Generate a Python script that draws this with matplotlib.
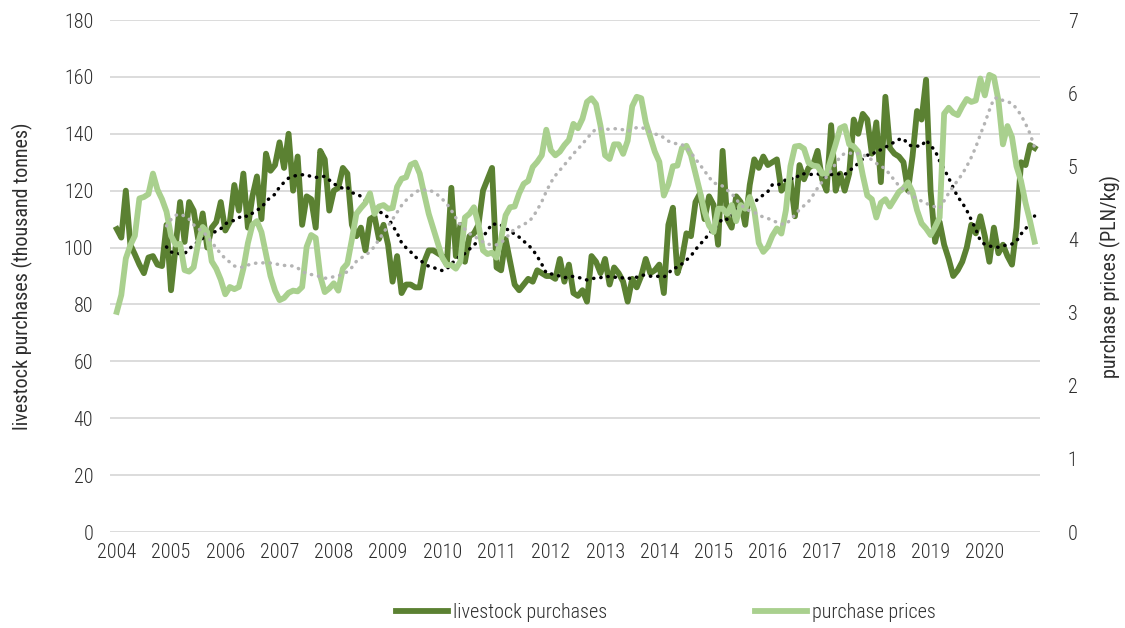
import numpy as np
import pandas as pd
import matplotlib
matplotlib.use("Agg")
import matplotlib.pyplot as plt
from matplotlib import font_manager

years = list(range(2004, 2021))

# livestock purchases, thousand tonnes, monthly 2004-2020
purchases = [
    106.5, 103.5, 120, 101, 97.6, 94, 91, 96.5, 97, 94, 93.5, 108,
    85, 100, 116, 102, 116, 113, 103, 112, 100, 107, 109, 116,
    106, 109, 122, 113, 126, 107, 118, 125, 110, 133, 127, 129,
    137, 128, 140, 120, 132, 108, 118, 117, 107, 134, 131, 113,
    120, 121, 128, 126, 108, 104, 107, 99, 110, 111, 103, 108,
    101, 88, 97, 84, 87, 87, 86, 86, 95, 99, 99, 98,
    97, 94, 121, 97, 108, 95, 104, 105, 108, 120, 124, 128,
    93, 92, 103, 95, 87, 85, 87, 89, 88, 92, 91, 90,
    90, 89, 96, 88, 94, 84, 83, 85, 81, 97, 95, 91,
    96, 87, 93, 91, 88, 81, 89, 86, 90, 96, 91, 92,
    94, 84, 108, 114, 91, 96, 105, 104, 116, 119, 110, 118,
    115, 101, 134, 110, 107, 118, 116, 108, 122, 131, 128, 132,
    129, 130, 131, 120, 122, 124, 111, 129, 124, 128, 129, 134,
    124, 120, 143, 120, 126, 120, 126, 145, 140, 147, 145, 133,
    144, 123, 153, 135, 133, 132, 130, 120, 132, 148, 145, 159,
    120, 102, 109, 101, 96, 90, 92, 95, 100, 108, 105, 111,
    104, 95, 107, 98, 101, 97, 94, 107, 130, 129, 136, 135,
]

# purchase prices, PLN/kg
prices = [
    3.01, 3.24, 3.74, 3.92, 4.05, 4.56, 4.58, 4.62, 4.9, 4.68, 4.55, 4.38,
    4.05, 3.93, 3.94, 3.58, 3.56, 3.62, 3.95, 4.17, 4.1, 3.7, 3.6, 3.45,
    3.25, 3.35, 3.32, 3.35, 3.6, 3.95, 4.2, 4.25, 4.1, 3.8, 3.5, 3.3,
    3.17, 3.2, 3.27, 3.3, 3.29, 3.35, 3.9, 4.06, 4.02, 3.5, 3.28, 3.33,
    3.4, 3.3, 3.6, 3.67, 4.0, 4.35, 4.43, 4.5, 4.63, 4.35, 4.45, 4.47,
    4.42, 4.43, 4.72, 4.83, 4.85, 5.02, 5.05, 4.9, 4.62, 4.35, 4.15, 3.95,
    3.75, 3.65, 3.65, 3.6, 3.7, 4.3, 4.35, 4.44, 4.2, 3.85, 3.8, 3.82,
    3.75, 4.01, 4.33, 4.44, 4.45, 4.63, 4.76, 4.8, 4.99, 5.06, 5.15, 5.5,
    5.22, 5.15, 5.2, 5.29, 5.36, 5.58, 5.52, 5.65, 5.88, 5.93, 5.85, 5.55,
    5.15, 5.1, 5.3, 5.3, 5.17, 5.35, 5.82, 5.95, 5.93, 5.6, 5.4, 5.2,
    5.06, 4.6, 4.75, 5.0, 5.01, 5.25, 5.28, 5.15, 4.9, 4.65, 4.38, 4.19,
    4.1, 4.42, 4.42, 4.35, 4.47, 4.25, 4.47, 4.42, 4.58, 4.4, 3.95, 3.83,
    3.9, 4.05, 4.15, 4.08, 4.4, 5.0, 5.27, 5.28, 5.24, 5.05, 5.01, 5.0,
    4.9, 4.9, 5.1, 5.3, 5.52, 5.55, 5.3, 5.27, 5.2, 4.88, 4.6, 4.55,
    4.3, 4.5, 4.55, 4.45, 4.55, 4.65, 4.7, 4.78, 4.65, 4.4, 4.22, 4.15,
    4.06, 4.17, 4.3, 5.72, 5.8, 5.73, 5.7, 5.82, 5.92, 5.88, 5.9, 6.2,
    5.97, 6.25, 6.22, 5.9, 5.3, 5.55, 5.4, 5.0, 4.8, 4.5, 4.25, 3.97,
]

# pick a narrow font if there is one
names = {f.name for f in font_manager.fontManager.ttflist}
fam = "Roboto"
for cand in ["Roboto Condensed", "Liberation Sans Narrow", "Roboto"]:
    if cand in names:
        fam = cand
        break
plt.rcParams["font.family"] = [fam, "DejaVu Sans"]
plt.rcParams["font.weight"] = "light"
plt.rcParams["font.size"] = 14.5
txt = "#2E2E2E"

dark = "#5B8132"
light = "#A9D08E"
lw = 4.2

x = np.arange(len(purchases))
ma_p = pd.Series(purchases).rolling(12).mean()
ma_c = pd.Series(prices).rolling(12).mean()

fig = plt.figure(figsize=(11.25, 6.28), dpi=100)
ax = fig.add_axes([110 / 1125, 1 - 532 / 628, 930 / 1125, 512 / 628])
ax2 = ax.twinx()

ax.plot(x, purchases, color=dark, lw=lw, solid_joinstyle="round", zorder=2)
ax.plot(x, ma_p, color="black", lw=2.5, linestyle=(0, (0.1, 2.0)),
        dash_capstyle="round", zorder=3)
ax2.plot(x, prices, color=light, lw=lw, solid_joinstyle="round", zorder=2)
ax2.plot(x, ma_c, color="#B4B4B4", lw=2.5, linestyle=(0, (0.1, 2.0)),
         dash_capstyle="round", zorder=3)

ax.set_ylim(0, 180)
ax.set_yticks(range(0, 181, 20))
ax2.set_ylim(0, 7)
ax2.set_yticks(range(0, 8))
ax.set_xlim(-1.5, len(x) + 0.2)
ax.set_xticks(range(0, len(x), 12))
ax.set_xticklabels([str(y) for y in years])

ax.yaxis.grid(True, color="#D9D9D9", lw=1.3)
ax.set_axisbelow(True)
for a in (ax, ax2):
    for s in a.spines.values():
        s.set_visible(False)
ax.tick_params(axis="y", length=0, pad=12, colors=txt)
ax.tick_params(axis="x", length=0, pad=8, colors=txt)
ax2.tick_params(axis="y", length=0, pad=20, colors=txt)

ax.set_ylabel("livestock purchases (thousand tonnes)", color=txt, labelpad=22)
ax2.set_ylabel("purchase prices (PLN/kg)", color=txt, labelpad=16)

h1, = ax.plot([], [], color=dark, lw=lw)
h2, = ax.plot([], [], color=light, lw=lw)
fig.legend([h1, h2], ["livestock purchases", "purchase prices"],
           loc="center", bbox_to_anchor=(666 / 1125, 1 - 613 / 628), ncol=2,
           frameon=False, handlelength=2.6, handletextpad=0.25,
           columnspacing=7.3, labelcolor=txt)

fig.savefig("out.png", dpi=100)
